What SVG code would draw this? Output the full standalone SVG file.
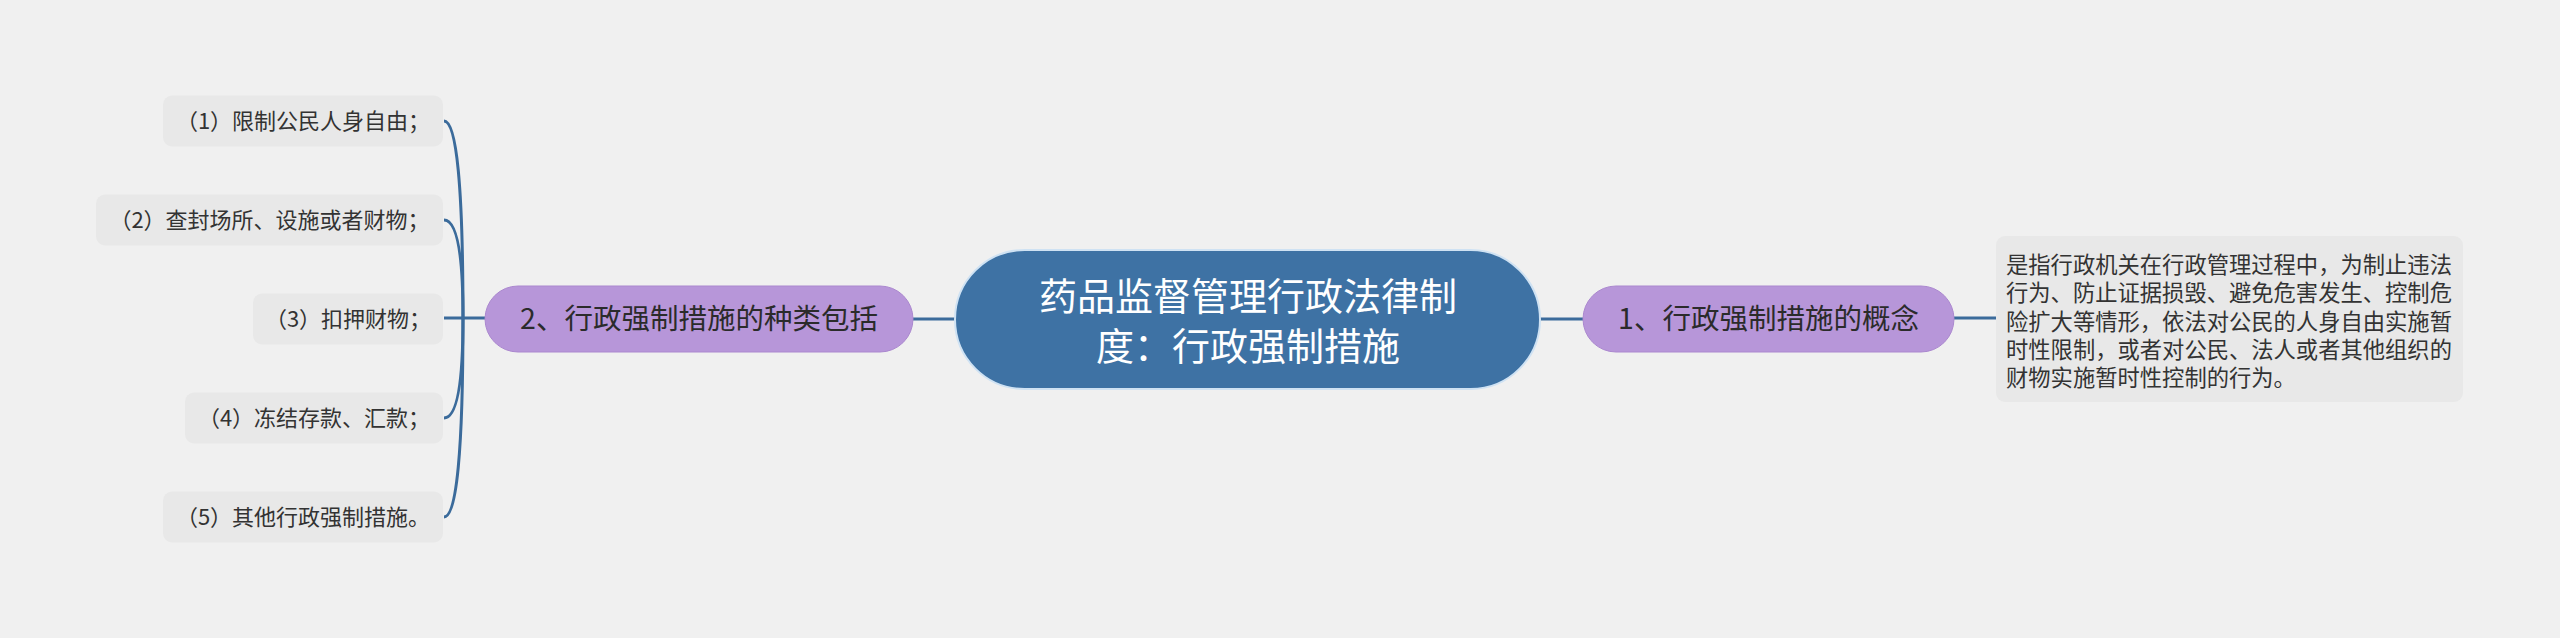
<svg xmlns="http://www.w3.org/2000/svg" width="2560" height="638" viewBox="0 0 2560 638">
<style>
text{font-family:"Noto Sans CJK SC","Noto Sans",sans-serif}
.conn{fill:none;stroke:#3b6b9b;stroke-width:3}
.central{fill:#3e72a4;stroke:#cfe2f3;stroke-width:2}
.central-t{fill:#ffffff;font-size:38px;text-anchor:middle}
.sub{fill:#b796d9;stroke:#ab88cf;stroke-width:1}
.sub-t{fill:#2b2b2b;font-size:28.5px;text-anchor:middle}
.leaf{fill:#e8e8e8}
.leaf-t{fill:#333333;font-size:22px;text-anchor:middle}
.detail-t{fill:#333333;font-size:22.3px}
</style>
<rect width="2560" height="638" fill="#f0f0f0"/>
<g id="connectors">
<path class="conn" d="M955 319 L913 319"/>
<path class="conn" d="M1540 319 L1583 319"/>
<path class="conn" d="M1954 318 L1996 318"/>
<path class="conn" d="M485 318 L444 318"/>
<path class="conn" d="M463 318 Q463 121 444 121"/>
<path class="conn" d="M463 318 Q463 220 444 220"/>
<path class="conn" d="M463 318 Q463 418 444 418"/>
<path class="conn" d="M463 318 Q463 517 444 517"/>
</g>
<g id="central">
<rect class="central" x="955" y="250" width="585" height="139" rx="69.5"/>
<text class="central-t" x="1248" y="310">药品监督管理行政法律制</text>
<text class="central-t" x="1248" y="360">度：行政强制措施</text>
</g>
<g id="node-left">
<rect class="sub" x="485" y="286" width="428" height="66" rx="33"/>
<text class="sub-t" x="699" y="329">2、行政强制措施的种类包括</text>
</g>
<g id="node-right">
<rect class="sub" x="1583" y="286" width="371" height="66" rx="33"/>
<text class="sub-t" x="1768.5" y="329">1、行政强制措施的概念</text>
</g>
<g id="detail">
<rect class="leaf" x="1996" y="236" width="467" height="166" rx="9"/>
<text class="detail-t" x="2006" y="273">是指行政机关在行政管理过程中，为制止违法</text>
<text class="detail-t" x="2006" y="301">行为、防止证据损毁、避免危害发生、控制危</text>
<text class="detail-t" x="2006" y="330">险扩大等情形，依法对公民的人身自由实施暂</text>
<text class="detail-t" x="2006" y="358">时性限制，或者对公民、法人或者其他组织的</text>
<text class="detail-t" x="2006" y="386">财物实施暂时性控制的行为。</text>
</g>
<g id="leaf-1">
<rect class="leaf" x="163" y="95.5" width="280" height="51" rx="9"/>
<text class="leaf-t" x="303" y="129">（1）限制公民人身自由；</text>
</g>
<g id="leaf-2">
<rect class="leaf" x="96" y="194.5" width="347" height="51" rx="9"/>
<text class="leaf-t" x="269.5" y="228">（2）查封场所、设施或者财物；</text>
</g>
<g id="leaf-3">
<rect class="leaf" x="253" y="293.5" width="190" height="51" rx="9"/>
<text class="leaf-t" x="348" y="327">（3）扣押财物；</text>
</g>
<g id="leaf-4">
<rect class="leaf" x="185" y="392.5" width="258" height="51" rx="9"/>
<text class="leaf-t" x="314" y="426">（4）冻结存款、汇款；</text>
</g>
<g id="leaf-5">
<rect class="leaf" x="163" y="491.5" width="280" height="51" rx="9"/>
<text class="leaf-t" x="303" y="525">（5）其他行政强制措施。</text>
</g>
</svg>
